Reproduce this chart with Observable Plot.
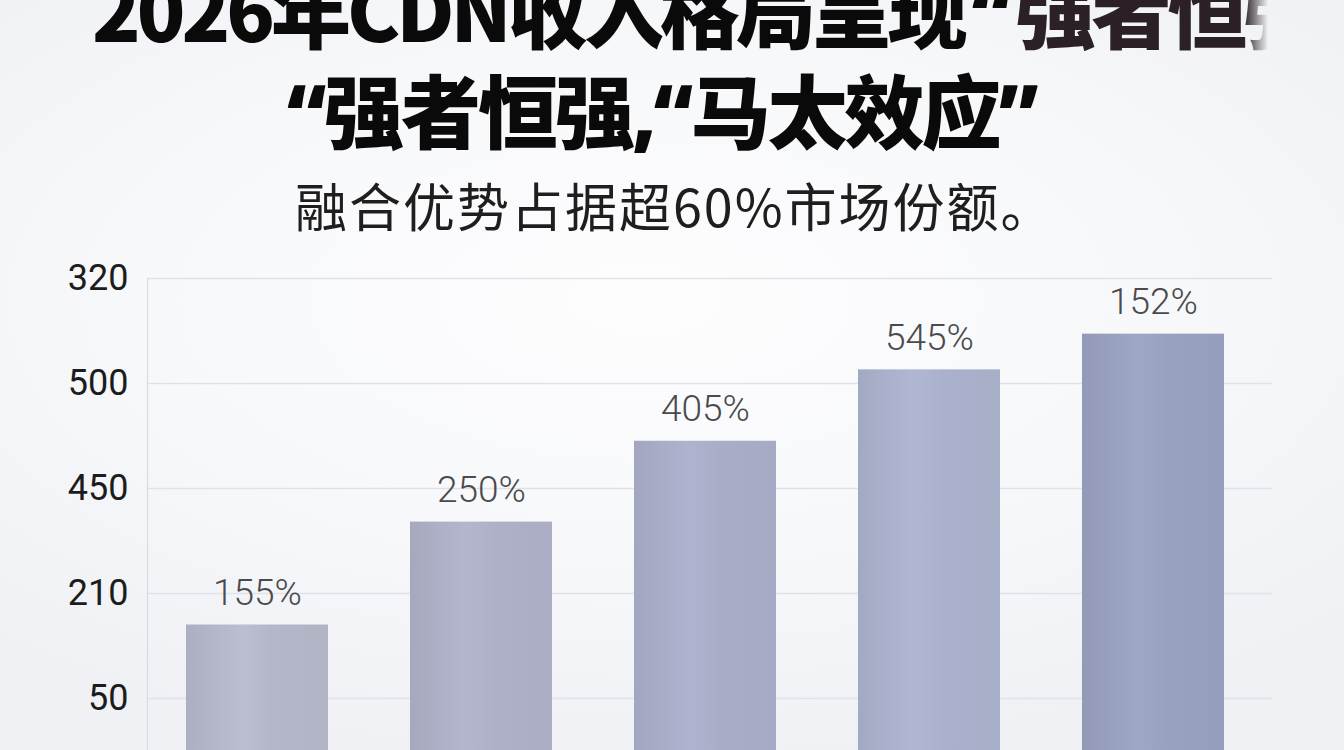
<!DOCTYPE html>
<html><head><meta charset="utf-8">
<script src="https://cdn.jsdelivr.net/npm/d3@7"></script>
<script src="https://cdn.jsdelivr.net/npm/@observablehq/plot@0.6"></script>
<style>
html,body{margin:0;padding:0;width:1344px;height:750px;overflow:hidden;background:#f5f6f9;}
#page{position:relative;width:1344px;height:750px;overflow:hidden;
  background: radial-gradient(ellipse 70% 60% at 48% 40%, #fdfdfe 0%, #f7f8fa 55%, #eff1f5 100%);}
.t{position:absolute;white-space:nowrap;font-family:"Noto Sans CJK SC","Noto Sans",sans-serif;}
.q{font-family:"Noto Sans","DejaVu Sans",sans-serif;font-weight:900;}
#t1{left:92px;top:-33px;font-size:80px;line-height:80px;font-weight:900;color:#0a0a0a;letter-spacing:-4px;
  -webkit-mask-image:linear-gradient(to right,#000 0,#000 1152px,transparent 1176px);
  mask-image:linear-gradient(to right,#000 0,#000 1152px,transparent 1176px);}
#t1 .q{margin-left:8px;margin-right:8px;}
#t1 .d{color:#2a2026;}
#t2{left:287px;top:67px;font-size:80px;line-height:80px;font-weight:900;color:#0a0a0a;letter-spacing:-3px;}
#sub{left:295px;top:179px;font-size:52px;line-height:52px;font-weight:400;color:#1e1e1e;letter-spacing:2px;}
#chart{position:absolute;left:0;top:250px;}
</style></head>
<body>
<div id="page">
  <div class="t" id="t1">2026年CDN收入格局呈现<span class="q">“</span><span class="d">强者恒强</span></div>
  <div class="t" id="t2"><span class="q">“</span>强者恒强<span class="q">,“</span>马太效应<span class="q">”</span></div>
  <div class="t" id="sub">融合优势占据超60%市场份额。</div>
  <div id="chart"></div>
</div>
<script>
// data
const categories = ["第1组", "第2组", "第3组", "第4组", "第5组"];
const barHeights = [1.70, 2.68, 3.45, 4.13, 4.47];      // bar heights in axis-grid units
const barLabels = ["155%", "250%", "405%", "545%", "152%"];
const tickPositions = [1, 2, 3, 4, 5];
const tickLabels = ["50", "210", "450", "500", "320"];
const barColors = ["#b4b7c9", "#adb0c6", "#a9adc8", "#a9b1cc", "#98a1bf"];

const data = categories.map((c, i) => ({cat: c, h: barHeights[i], label: barLabels[i]}));
const gradIds = categories.map((c, i) => `url(#bargrad${i})`);

const chart = Plot.plot({
  width: 1344,
  height: 553,
  marginTop: 28,
  marginBottom: 0,
  marginLeft: 147,
  marginRight: 72,
  style: {background: "transparent", fontFamily: "Roboto, 'Noto Sans', sans-serif", overflow: "visible"},
  x: {domain: categories, range: [186, 1224], paddingInner: 0.367, paddingOuter: 0, axis: null},
  y: {domain: [0, 5], axis: null},
  color: {type: "ordinal", domain: categories, range: gradIds},
  marks: [
    Plot.ruleY(tickPositions, {stroke: "#e1e2e7", strokeWidth: 1.5}),
    Plot.frame({anchor: "left", stroke: "#dadbe0", strokeWidth: 1.2}),
    Plot.barY(data, {x: "cat", y: "h", fill: "cat"}),
    Plot.text(data, {x: "cat", y: "h", text: "label", dy: -20, lineAnchor: "bottom", fontSize: 37, fontWeight: 300, fill: "#4a4a4c"}),
    Plot.axisY(tickPositions, {label: null, tickSize: 0, tickPadding: 19, fontSize: 36, fill: "#1c1c1c",
      tickFormat: d => tickLabels[tickPositions.indexOf(d)]})
  ]
});

// subtle horizontal sheen inside each bar
const defs = d3.select(chart).insert("defs", ":first-child");
barColors.forEach((col, i) => {
  const c = d3.color(col);
  const g = defs.append("linearGradient").attr("id", `bargrad${i}`).attr("x1", "0").attr("x2", "1").attr("y1", "0").attr("y2", "0");
  g.append("stop").attr("offset", "0%").attr("stop-color", c.darker(0.12).formatHex());
  g.append("stop").attr("offset", "40%").attr("stop-color", c.brighter(0.1).formatHex());
  g.append("stop").attr("offset", "60%").attr("stop-color", c.formatHex());
  g.append("stop").attr("offset", "100%").attr("stop-color", c.darker(0.05).formatHex());
});
document.getElementById("chart").appendChild(chart);
</script>
</body></html>
